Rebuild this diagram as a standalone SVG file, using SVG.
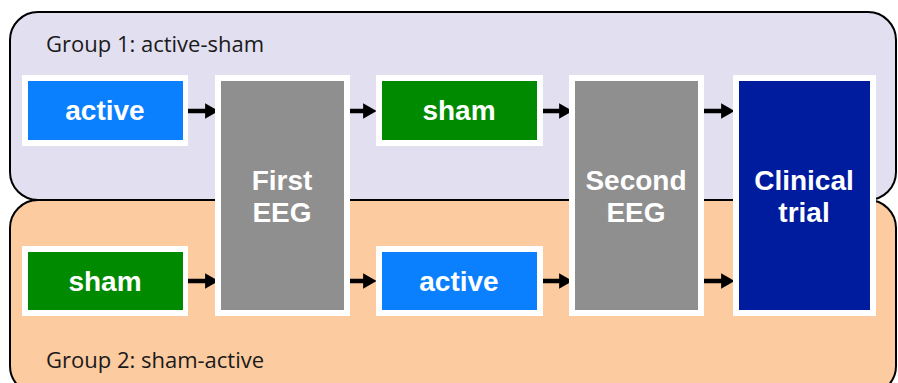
<svg xmlns="http://www.w3.org/2000/svg" width="898" height="383" viewBox="0 0 898 383">
<defs>
<style>
.grp{stroke:#000;stroke-width:2}
.glabel{font-family:"Open Sans","Noto Sans",sans-serif;font-size:22px;fill:#1a1a1a}
.frame{fill:#fff}
.lbl{font-family:"Liberation Sans",Arial,sans-serif;font-weight:bold;font-size:28px;fill:#fff;text-anchor:middle}
.conn{stroke:#000;stroke-width:4.5;fill:none;marker-end:url(#ah)}
</style>
<marker id="ah" markerWidth="3" markerHeight="3.4" refX="0.2" refY="1.7" orient="auto" markerUnits="strokeWidth">
<path d="M0,0 L3,1.7 L0,3.4 Z" fill="#000"/>
</marker>
</defs>
<rect width="898" height="383" fill="#fff"/>
<g id="group1">
<rect class="grp" x="10" y="12" width="886" height="188" rx="28" fill="#e2dff0"/>
<text class="glabel" x="46" y="52">Group 1: active-sham</text>
</g>
<g id="group2">
<rect class="grp" x="10" y="200" width="886" height="194" rx="28" fill="#fccba0"/>
<text class="glabel" x="46" y="368">Group 2: sham-active</text>
</g>
<g id="connectors">
<line class="conn" x1="186" y1="111" x2="206" y2="111"/>
<line class="conn" x1="186" y1="281" x2="206" y2="281"/>
<line class="conn" x1="350" y1="111" x2="364" y2="111"/>
<line class="conn" x1="350" y1="281" x2="364" y2="281"/>
<line class="conn" x1="543" y1="111" x2="560" y2="111"/>
<line class="conn" x1="543" y1="281" x2="560" y2="281"/>
<line class="conn" x1="704" y1="111" x2="722" y2="111"/>
<line class="conn" x1="704" y1="281" x2="722" y2="281"/>
</g>
<g id="active1">
<rect class="frame" x="22" y="75" width="166" height="71"/>
<rect x="28" y="81" width="155" height="59" fill="#0a80ff"/>
<text class="lbl" x="105" y="120">active</text>
</g>
<g id="sham1">
<rect class="frame" x="22" y="246" width="166" height="70"/>
<rect x="28" y="252" width="155" height="58" fill="#008a00"/>
<text class="lbl" x="105" y="291">sham</text>
</g>
<g id="firstEEG">
<rect class="frame" x="215" y="75" width="135" height="241"/>
<rect x="221" y="81" width="123" height="229" fill="#8f8f8f"/>
<text class="lbl" x="282" y="190">First</text>
<text class="lbl" x="282" y="222">EEG</text>
</g>
<g id="sham2">
<rect class="frame" x="376" y="75" width="167" height="71"/>
<rect x="382" y="81" width="155" height="59" fill="#008a00"/>
<text class="lbl" x="459" y="120">sham</text>
</g>
<g id="active2">
<rect class="frame" x="376" y="246" width="167" height="70"/>
<rect x="382" y="252" width="155" height="58" fill="#0a80ff"/>
<text class="lbl" x="459" y="291">active</text>
</g>
<g id="secondEEG">
<rect class="frame" x="569" y="75" width="135" height="241"/>
<rect x="575" y="81" width="123" height="229" fill="#8f8f8f"/>
<text class="lbl" x="636" y="190">Second</text>
<text class="lbl" x="636" y="222">EEG</text>
</g>
<g id="clinical">
<rect class="frame" x="733" y="75" width="143" height="241"/>
<rect x="739" y="81" width="131" height="229" fill="#001c9e"/>
<text class="lbl" x="804" y="190">Clinical</text>
<text class="lbl" x="804" y="222">trial</text>
</g>
</svg>
